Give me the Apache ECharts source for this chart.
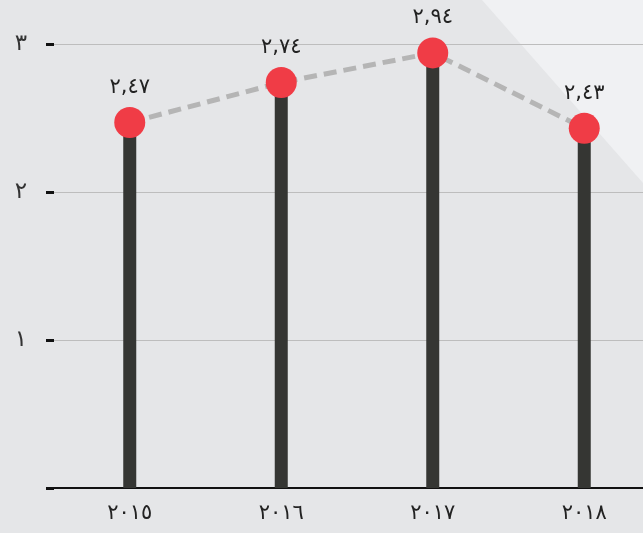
<!DOCTYPE html>
<html>
<head>
<meta charset="utf-8">
<script src="https://cdn.jsdelivr.net/npm/echarts@6/dist/echarts.min.js"></script>
<style>
html, body { margin: 0; padding: 0; background: #e5e6e8; }
#chart { width: 643px; height: 533px; }
</style>
</head>
<body>
<div id="chart"></div>
<script>
// years on the x axis
var years = ['٢٠١٥', '٢٠١٦', '٢٠١٧', '٢٠١٨'];
// values per year
var values = [2.47, 2.74, 2.94, 2.43];
// labels shown above the dots
var valueLabels = ['٢,٤٧', '٢,٧٤', '٢,٩٤', '٢,٤٣'];
// y tick labels
var yTicks = { 1: '١', 2: '٢', 3: '٣' };

var myChart = echarts.init(document.getElementById('chart'));
myChart.setOption({
	backgroundColor: '#e5e6e8',
	animation: false,
	textStyle: { fontFamily: 'DejaVu Sans' },
	graphic: [{
		type: 'polygon',
		z: -10,
		silent: true,
		shape: { points: [[482, 0], [643, 0], [643, 183]] },
		style: { fill: '#f0f1f3' }
	}],
	grid: { left: 54, right: -17, top: 44, bottom: 45, outerBoundsMode: 'none', containLabel: false },
	xAxis: {
		type: 'category',
		data: years,
		axisLine: { lineStyle: { color: '#111', width: 2 } },
		axisTick: { show: false },
		axisLabel: { color: '#222', fontSize: 21, margin: 15 }
	},
	yAxis: {
		type: 'value',
		min: 0,
		max: 3,
		interval: 1,
		axisLine: { show: false },
		axisTick: { show: true, length: 8, lineStyle: { color: '#111', width: 3 } },
		splitLine: { lineStyle: { color: '#bdbdbd', width: 1 } },
		axisLabel: {
			color: '#333',
			fontSize: 23,
			margin: 27,
			formatter: function (v) { return yTicks[v] || ''; }
		}
	},
	series: [
		{
			type: 'bar',
			data: values,
			barWidth: 13,
			itemStyle: { color: '#353633' },
			z: 2
		},
		{
			type: 'line',
			data: values,
			symbol: 'circle',
			symbolSize: 31,
			itemStyle: { color: '#f03c46' },
			lineStyle: { color: '#b5b5b5', width: 5, type: [13, 7] },
			label: {
				show: true,
				position: 'top',
				distance: 9,
				color: '#222',
				fontSize: 21,
				formatter: function (p) { return valueLabels[p.dataIndex]; }
			},
			z: 3
		}
	]
});
</script>
</body>
</html>
